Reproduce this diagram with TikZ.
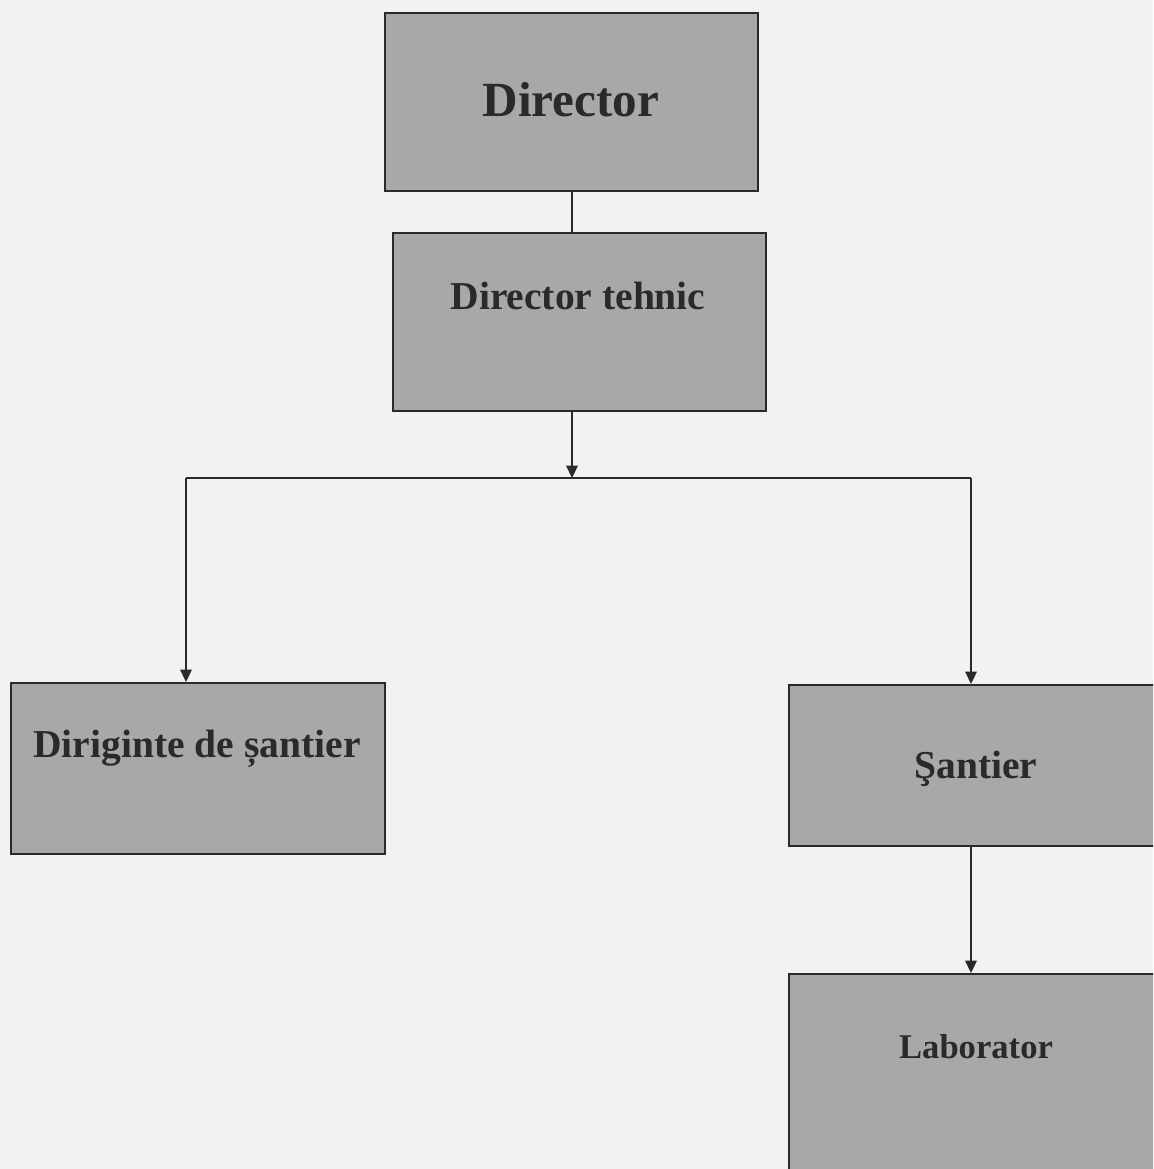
\documentclass[tikz,border=0pt]{standalone}
\usepackage{fontspec}
\setmainfont{Liberation Serif}
\usetikzlibrary{arrows.meta}
\definecolor{bg}{RGB}{242,242,245}
\definecolor{boxfill}{RGB}{168,168,170}
\definecolor{ink}{RGB}{42,42,44}
\begin{document}
\begin{tikzpicture}[x=0.02cm,y=-0.02cm,
  box/.style={draw=ink,line width=1.1pt,fill=boxfill,inner sep=0pt,anchor=north west},
  lbl/.style={text=ink,inner sep=0pt,font=\bfseries\fontsize{22.5}{27}\selectfont},
  conn/.style={draw=ink,line width=1pt},
  arr/.style={conn,-{Triangle[width=6.5pt,length=7pt]}}]
\useasboundingbox (0,0) rectangle (1153,1169);
\clip (0,0) rectangle (1153,1169);
\fill[bg] (0,0) rectangle (1153,1169);
% boxes
\node[box,minimum width=7.46cm,minimum height=3.56cm] (dir) at (384,12) {};
\node[box,minimum width=7.46cm,minimum height=3.56cm] (dtb) at (392,232) {};
\node[box,minimum width=7.48cm,minimum height=3.42cm] (dgb) at (10,682) {};
\node[box,minimum width=8cm,minimum height=3.22cm] (snb) at (788,684) {};
\node[box,minimum width=8cm,minimum height=5cm] (lbb) at (788,973) {};
% labels
\node[lbl,font=\bfseries\fontsize{28}{34}\selectfont] (dirt) at (571,100) {Director};
\node[lbl] (dtt) at (578,296) {Director tehnic};
\node[lbl] (dgt) at (197,749) {Diriginte de șantier};
\node[lbl] (snt) at (976,769) {Şantier};
\node[lbl,font=\bfseries\fontsize{19.7}{24}\selectfont] (lbt) at (976,1047) {Laborator};
% connectors
\coordinate (j) at (572,478);
\coordinate (jl) at (186,478);
\coordinate (jr) at (971,478);
\draw[conn] (j |- dir.south) -- (j |- dtb.north);
\draw[arr] (j |- dtb.south) -- (j);
\draw[conn] (jl) -- (jr);
\draw[arr] (jl) -- (jl |- dgb.north);
\draw[arr] (jr) -- (jr |- snb.north);
\draw[arr] (jr |- snb.south) -- (jr |- lbb.north);
\end{tikzpicture}
\end{document}
